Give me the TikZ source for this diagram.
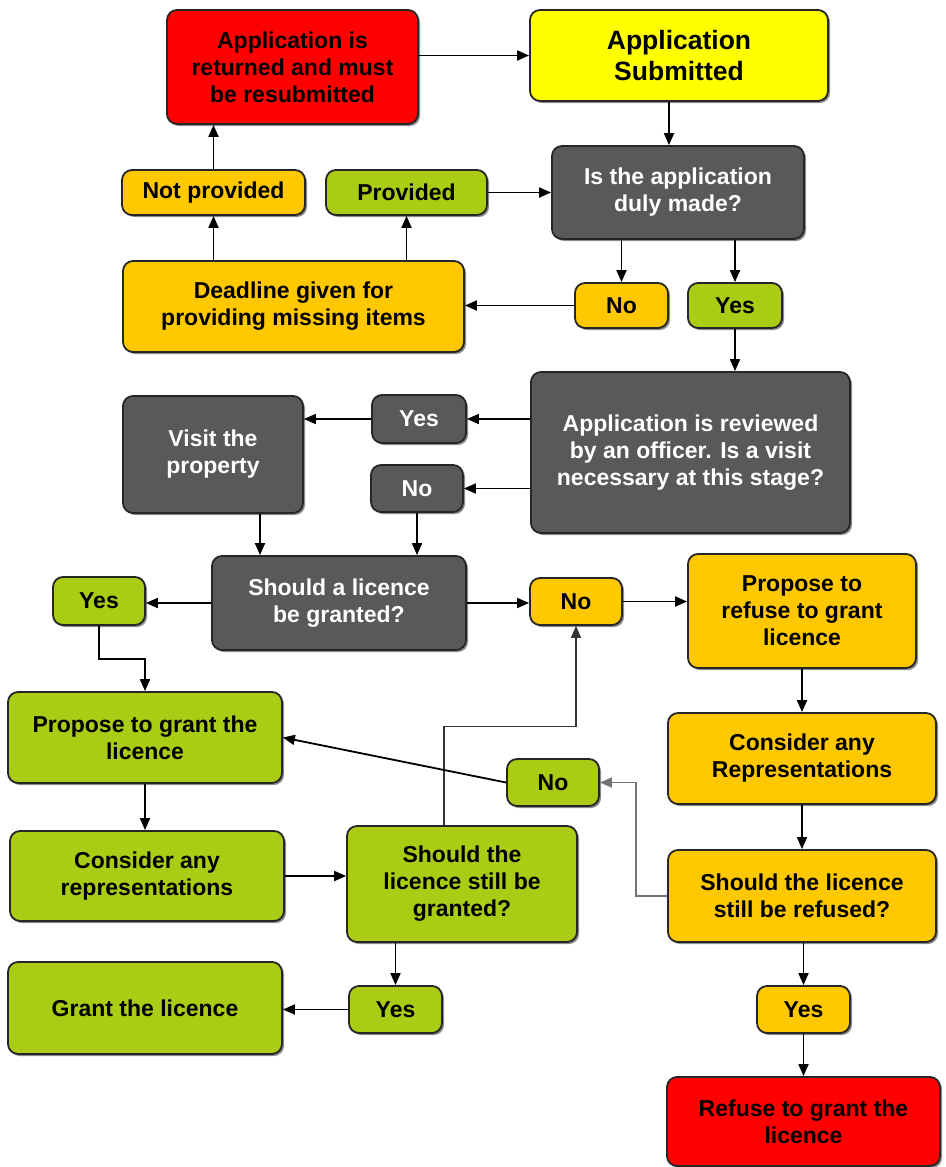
\documentclass[tikz,border=0pt]{standalone}
\usepackage{fontspec}
\setmainfont{Liberation Sans}
\usetikzlibrary{arrows.meta,shadows,calc}
\definecolor{cred}{HTML}{FF0000}
\definecolor{cyel}{HTML}{FFFF00}
\definecolor{corg}{HTML}{FFC800}
\definecolor{cgrn}{HTML}{AACC14}
\definecolor{cgry}{HTML}{595959}
\begin{document}
\begin{tikzpicture}[x=1pt,y=-1pt,
  box/.style={draw=black!85, line width=1.8pt, rounded corners=10pt, align=center,
    inner sep=0pt, font=\fontsize{23}{27}\selectfont\bfseries,
    drop shadow={shadow xshift=2pt, shadow yshift=-2pt, opacity=0.45, fill=black}},
  redbox/.style={box, fill=cred, text=black},
  yelbox/.style={box, fill=cyel, text=black, font=\fontsize{26.5}{31}\selectfont\bfseries},
  orgbox/.style={box, fill=corg, text=black},
  grnbox/.style={box, fill=cgrn, text=black},
  grybox/.style={box, fill=cgry, text=white},
  arr/.style={line width=1.8pt, draw=black, -{Triangle[length=12pt,width=10pt]}},
  thinarr/.style={line width=1.1pt, draw=black!80, -{Triangle[length=12pt,width=10pt]}},
  grayarr/.style={line width=1.8pt, draw=black!55, -{Triangle[length=12pt,width=10pt]}},
]
\useasboundingbox (0,0) rectangle (945,1167);

% nodes
\node[redbox, minimum width=251pt, minimum height=114pt] (ret) at (292.5,67) {Application is\\returned and must\\be resubmitted};
\node[yelbox, minimum width=298pt, minimum height=91pt] (sub) at (679,55.5) {Application\\Submitted};
\node[orgbox, minimum width=183pt, minimum height=45pt] (np) at (213.5,192.5) {Not provided};
\node[grnbox, minimum width=161pt, minimum height=45pt] (pv) at (406.5,192.5) {Provided};
\node[grybox, minimum width=252pt, minimum height=93pt] (dm) at (678,192.5) {Is the application\\duly made?};
\node[orgbox, minimum width=341pt, minimum height=91pt] (dl) at (293.5,306.5) {Deadline given for\\providing missing items};
\node[orgbox, minimum width=93pt, minimum height=45pt] (no1) at (621.5,305.5) {No};
\node[grnbox, minimum width=94pt, minimum height=45pt] (yes1) at (735,305.5) {Yes};
\node[grybox, minimum width=319pt, minimum height=161pt] (rev) at (690.5,452.5) {Application is reviewed\\by an officer. Is a visit\\necessary at this stage?};
\node[grybox, minimum width=94pt, minimum height=48pt] (yes2) at (419,419) {Yes};
\node[grybox, minimum width=92pt, minimum height=47pt] (no2) at (417,488.5) {No};
\node[grybox, minimum width=180pt, minimum height=117pt] (vis) at (213,454.5) {Visit the\\property};
\node[grybox, minimum width=254pt, minimum height=94pt] (sg) at (339,603) {Should a licence\\be granted?};
\node[grnbox, minimum width=92pt, minimum height=48pt] (yes3) at (99,601) {Yes};
\node[orgbox, minimum width=92pt, minimum height=47pt] (no3) at (576,601.5) {No};
\node[orgbox, minimum width=228pt, minimum height=114pt] (pr) at (802,611) {Propose to\\refuse to grant\\licence};
\node[grnbox, minimum width=274pt, minimum height=91pt] (pg) at (145,737.5) {Propose to grant the\\licence};
\node[orgbox, minimum width=268pt, minimum height=91pt] (cr2) at (802,758.5) {Consider any\\Representations};
\node[grnbox, minimum width=92pt, minimum height=47pt] (no4) at (553,782.5) {No};
\node[grnbox, minimum width=274pt, minimum height=90pt] (cr1) at (147,876) {Consider any\\representations};
\node[grnbox, minimum width=230pt, minimum height=116pt] (sgs) at (462,884) {Should the\\licence still be\\granted?};
\node[orgbox, minimum width=268pt, minimum height=92pt] (srf) at (802,896) {Should the licence\\still be refused?};
\node[grnbox, minimum width=274pt, minimum height=92pt] (gl) at (145,1008) {Grant the licence};
\node[grnbox, minimum width=93pt, minimum height=47pt] (yes4) at (395.5,1009.5) {Yes};
\node[orgbox, minimum width=93pt, minimum height=47pt] (yes5) at (803.5,1009.5) {Yes};
\node[redbox, minimum width=273pt, minimum height=89pt] (rf) at (803.5,1121.5) {Refuse to grant the\\licence};

% connectors
\draw[arr] (ret.east |- sub.west) -- (sub.west);
\draw[arr] ([xshift=-10pt]sub.south) -- ([xshift=-10pt]sub.south |- dm.north);
\draw[arr] (np.north) -- (np.north |- ret.south);
\draw[arr] (np.south |- dl.north) -- (np.south);
\draw[arr] (pv.south |- dl.north) -- (pv.south);
\draw[arr] (pv.east) -- (pv.east -| dm.west);
\draw[arr] (no1.north |- dm.south) -- (no1.north);
\draw[arr] (yes1.north |- dm.south) -- (yes1.north);
\draw[arr] (no1.west) -- (no1.west -| dl.east);
\draw[arr] (yes1.south) -- (yes1.south |- rev.north);
\draw[arr] (rev.west |- yes2.east) -- (yes2.east);
\draw[arr] (yes2.west) -- (yes2.west -| vis.east);
\draw[arr] (rev.west |- no2.east) -- (no2.east);
\draw[arr] ([xshift=47pt]vis.south) -- ([xshift=47pt]vis.south |- sg.north);
\draw[arr] (no2.south) -- (no2.south |- sg.north);
\draw[arr] (sg.west) -- (sg.west -| yes3.east);
\draw[arr] (sg.east) -- (sg.east -| no3.west);
\draw[arr] (no3.east) -- (no3.east -| pr.west);
\draw[arr] (yes3.south) -- ++(0,33) -| (pg.north);
\draw[arr] (pg.south) -- (pg.south |- cr1.north);
\draw[arr] (cr1.east) -- (cr1.east -| sgs.west);
\path (no3.south) ++(0,101) coordinate (k1);
\draw[thinarr] ([xshift=-18pt]sgs.north) |- (k1) -- (no3.south);
\draw[arr] (pr.south) -- (pr.south |- cr2.north);
\draw[arr] (cr2.south) -- (cr2.south |- srf.north);
\draw[grayarr] (srf.west) -- ++(-31,0) |- (no4.east);
\draw[arr] (no4.west) -- (pg.east);
\draw[arr] (yes4.north |- sgs.south) -- (yes4.north);
\draw[arr] (yes4.west) -- (yes4.west -| gl.east);
\draw[arr] (yes5.north |- srf.south) -- (yes5.north);
\draw[arr] (yes5.south) -- (yes5.south |- rf.north);
\end{tikzpicture}
\end{document}
